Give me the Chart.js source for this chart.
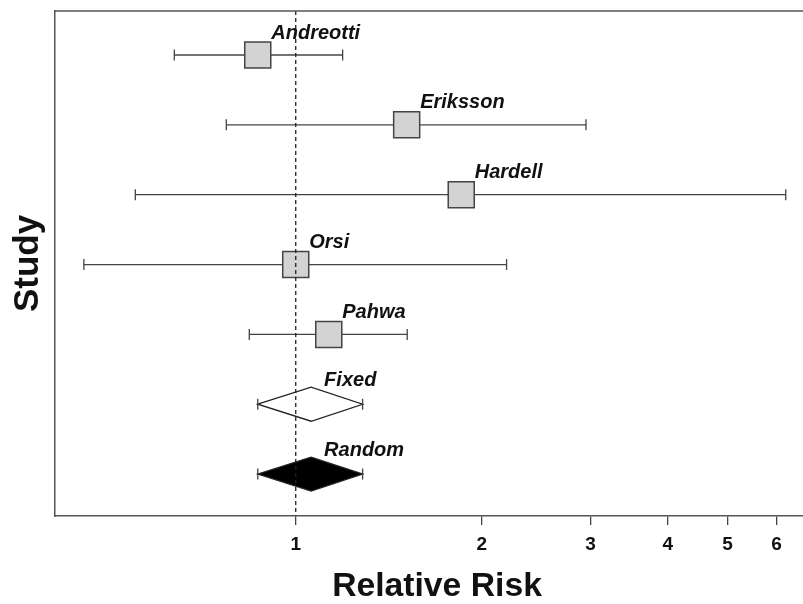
<!DOCTYPE html>
<html>
<head>
<meta charset="utf-8">
<script src="https://cdn.jsdelivr.net/npm/chart.js@4"></script>
<style>
  html, body { margin: 0; padding: 0; background: #fff; overflow: hidden; }
  #wrap { width: 803px; height: 604px; overflow: hidden; }
</style>
</head>
<body>
<div id="wrap"><canvas id="forest" width="819" height="604"></canvas></div>
<script>
// studies, top to bottom
const studies = ['Andreotti', 'Eriksson', 'Hardell', 'Orsi', 'Pahwa'];
const rr = [0.868, 1.512, 1.853, 1.0, 1.131];
const lower = [0.636, 0.772, 0.55, 0.454, 0.841];
const upper = [1.191, 2.95, 6.21, 2.194, 1.515];

// pooled estimates
const pooled = ['Fixed', 'Random'];
const pooledRR = [1.059, 1.059];
const pooledLower = [0.868, 0.868];
const pooledUpper = [1.283, 1.283];

const tickValues = [1, 2, 3, 4, 5, 6];
const refValue = 1;

const yMin = 0.37, yMax = 7.6;
const fontFam = 'Arial, "Liberation Sans", sans-serif';

const datasets = [];

// confidence intervals
studies.forEach((s, i) => {
    datasets.push({
        label: s + ' CI',
        data: [{ x: lower[i], y: i + 1 }, { x: upper[i], y: i + 1 }],
        showLine: true,
        borderColor: '#444',
        borderWidth: 1.3,
        pointStyle: 'line',
        rotation: 90,
        pointRadius: 5.5,
        pointBorderColor: '#444',
        pointBorderWidth: 1.3,
        order: 2
    });
});

// study boxes
datasets.push({
    label: 'RR',
    data: rr.map((v, i) => ({ x: v, y: i + 1 })),
    pointStyle: 'rect',
    pointRadius: 18.4,
    backgroundColor: '#d3d3d3',
    borderColor: '#444',
    borderWidth: 1.5,
    order: 1
});

// line of no effect
datasets.push({
    label: 'ref',
    data: [{ x: refValue, y: yMin }, { x: refValue, y: yMax }],
    showLine: true,
    borderColor: '#222',
    borderWidth: 1.3,
    borderDash: [4, 3],
    pointRadius: 0,
    order: 0
});

// diamonds for pooled estimates + text labels
const forestPlugin = {
    id: 'forestExtras',
    beforeDatasetsDraw(chart) {
        const ctx = chart.ctx;
        const xs = chart.scales.x, ys = chart.scales.y;
        pooled.forEach((p, j) => {
            const row = studies.length + j + 1;
            const y = ys.getPixelForValue(row);
            const xl = xs.getPixelForValue(pooledLower[j]);
            const xm = xs.getPixelForValue(pooledRR[j]);
            const xh = xs.getPixelForValue(pooledUpper[j]);
            ctx.save();
            ctx.beginPath();
            ctx.moveTo(xl, y);
            ctx.lineTo(xm, y - 17);
            ctx.lineTo(xh, y);
            ctx.lineTo(xm, y + 17);
            ctx.closePath();
            ctx.fillStyle = p === 'Random' ? '#000' : '#fff';
            ctx.fill();
            ctx.strokeStyle = '#222';
            ctx.lineWidth = 1.3;
            ctx.stroke();
            // caps
            ctx.beginPath();
            ctx.moveTo(xl, y - 5.5); ctx.lineTo(xl, y + 5.5);
            ctx.moveTo(xh, y - 5.5); ctx.lineTo(xh, y + 5.5);
            ctx.strokeStyle = '#444';
            ctx.stroke();
            ctx.restore();
        });
    },
    afterDatasetsDraw(chart) {
        const ctx = chart.ctx;
        const xs = chart.scales.x, ys = chart.scales.y;
        const area = chart.chartArea;
        ctx.save();
        ctx.font = 'italic bold 20px ' + fontFam;
        ctx.fillStyle = '#111';
        ctx.textBaseline = 'alphabetic';
        ctx.textAlign = 'left';
        studies.forEach((s, i) => {
            ctx.fillText(s, xs.getPixelForValue(rr[i]) + 13.5, ys.getPixelForValue(i + 1) - 16.5);
        });
        pooled.forEach((p, j) => {
            ctx.fillText(p, xs.getPixelForValue(pooledRR[j]) + 13, ys.getPixelForValue(studies.length + j + 1) - 18.5);
        });
        // top frame line
        ctx.beginPath();
        ctx.moveTo(area.left, area.top);
        ctx.lineTo(area.right, area.top);
        ctx.strokeStyle = '#555';
        ctx.lineWidth = 1.5;
        ctx.stroke();
        ctx.restore();
    }
};

new Chart(document.getElementById('forest').getContext('2d'), {
    type: 'scatter',
    data: { datasets: datasets },
    plugins: [forestPlugin],
    options: {
        responsive: false,
        animation: false,
        events: [],
        layout: { autoPadding: false, padding: { top: 11, right: 0, left: 0, bottom: 0 } },
        plugins: { legend: { display: false }, tooltip: { enabled: false } },
        scales: {
            x: {
                type: 'logarithmic',
                min: 0.4077,
                max: 7.03,
                afterBuildTicks: scale => {
                    scale.ticks = tickValues.map(v => ({ value: v }));
                },
                afterFit: scale => { scale.height = 88; },
                grid: { drawOnChartArea: false, drawTicks: true, tickLength: 9, color: '#444', lineWidth: 1.3 },
                border: { display: true, color: '#555', width: 1.5 },
                ticks: {
                    padding: 8,
                    color: '#111',
                    font: { family: fontFam, size: 19, weight: 'bold' },
                    maxRotation: 0,
                    autoSkip: false,
                    callback: v => String(v)
                },
                title: {
                    display: true,
                    text: 'Relative Risk',
                    color: '#111',
                    font: { family: fontFam, size: 33.7, weight: 'bold', lineHeight: 1 },
                    padding: { top: 0, bottom: 0 }
                }
            },
            y: {
                type: 'linear',
                min: yMin,
                max: yMax,
                reverse: true,
                afterFit: scale => { scale.width = 55; },
                grid: { display: false },
                border: { display: true, color: '#555', width: 1.5 },
                ticks: { display: false },
                title: {
                    display: true,
                    text: 'Study',
                    color: '#111',
                    font: { family: fontFam, size: 35, weight: 'bold', lineHeight: 1 },
                    padding: { top: 11, bottom: 0 }
                }
            }
        }
    }
});
</script>
</body>
</html>
